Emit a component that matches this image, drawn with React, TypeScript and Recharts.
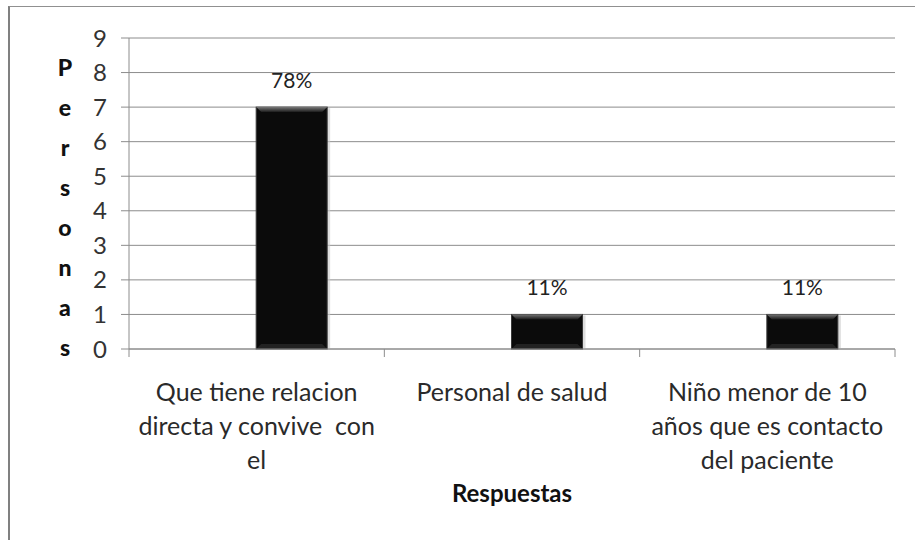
import { BarChart, Bar, XAxis, YAxis, CartesianGrid, LabelList, Label } from 'recharts'

const categories = [
  'Que tiene relacion\ndirecta y convive  con\nel',
  'Personal de salud',
  'Niño menor de 10\naños que es contacto\ndel paciente',
]
const serie1 = [0, 0, 0]
const personas = [7, 1, 1]
const porcentajes = ['78%', '11%', '11%']
const yTicks = [0, 1, 2, 3, 4, 5, 6, 7, 8, 9]

const data = categories.map((c, i) => ({
  name: c,
  serie1: serie1[i],
  personas: personas[i],
  pct: porcentajes[i],
}))

const FONT = 'Lato, "Open Sans", sans-serif'
const GRID = '#8c8c8c'

function BevelBar(props: any) {
  const { x, y, width, height } = props
  if (!height || height <= 0) return null
  const b = Math.min(5, height / 4)
  return (
    <g>
      <rect x={x + 1} y={y + 1} width={width + 2} height={height} fill="#c8c8c8" opacity={0.6} />
      <rect x={x} y={y} width={width} height={height} fill="#0b0b0b" stroke="#3a3a3a" strokeWidth={1} />
      <polygon
        points={`${x},${y} ${x + width},${y} ${x + width - b},${y + b} ${x + b},${y + b}`}
        fill="url(#bevelTop)"
      />
      <polygon
        points={`${x},${y + height} ${x + width},${y + height} ${x + width - b},${y + height - b} ${x + b},${y + height - b}`}
        fill="#222"
      />
    </g>
  )
}

function CategoryTick(props: any) {
  const { x, y, payload, index } = props
  const lines = String(payload.value).split('\n')
  const half = payload.offset || 127.6
  return (
    <g>
      <line x1={x - half} y1={y - 8} x2={x - half} y2={y} stroke={GRID} />
      {index === categories.length - 1 && <line x1={x + half} y1={y - 8} x2={x + half} y2={y} stroke={GRID} />}
      <text
        x={x}
        y={y}
        textAnchor="middle"
        fill="#2a2a2a"
        fontSize={25}
        fontFamily={FONT}
        style={{ whiteSpace: 'pre' }}
      >
        {lines.map((l, i) => (
          <tspan key={i} x={x} dy={i === 0 ? 44 : 34}>
            {l}
          </tspan>
        ))}
      </text>
    </g>
  )
}

function StackedTitle(props: any) {
  const { viewBox } = props
  const letters = 'Personas'.split('')
  return (
    <g>
      {letters.map((ch, i) => (
        <text
          key={i}
          x={viewBox.x + 65}
          y={viewBox.y + 29 + i * 40}
          textAnchor="middle"
          dominantBaseline="central"
          fontSize={23}
          fontWeight="900"
          fontFamily={FONT}
          fill="#111"
        >
          {ch}
        </text>
      ))}
    </g>
  )
}

export default function App() {
  return (
    <div style={{ position: 'absolute', left: 0, top: 0, width: 915, height: 540, overflow: 'hidden', background: '#fff' }}>
      <div
        style={{
          position: 'absolute',
          left: 8,
          top: 6,
          width: 940,
          height: 560,
          borderTop: '1.5px solid #909090',
          borderLeft: '2px solid #808080',
        }}
      />
      <div style={{ position: 'absolute', left: 0, top: 0 }}>
        <BarChart
          width={915}
          height={540}
          data={data}
          margin={{ top: 38, right: 20, left: 0, bottom: 0 }}
          barCategoryGap="22%"
          barGap={0}
        >
          <defs>
            <linearGradient id="bevelTop" x1="0" y1="0" x2="0" y2="1">
              <stop offset="0%" stopColor="#777" />
              <stop offset="100%" stopColor="#1a1a1a" />
            </linearGradient>
          </defs>
          <CartesianGrid vertical={false} stroke={GRID} strokeDasharray="" />
          <XAxis
            dataKey="name"
            height={191}
            interval={0}
            axisLine={{ stroke: GRID }}
            tickLine={false}
            tick={<CategoryTick />}
          >
            <Label
              value="Respuestas"
              position="insideBottom"
              offset={38}
              style={{ fontFamily: FONT, fontSize: 24, fontWeight: 'bold', fill: '#111' }}
            />
          </XAxis>
          <YAxis
            width={129}
            domain={[0, 9]}
            ticks={yTicks}
            interval={0}
            axisLine={{ stroke: GRID }}
            tickLine={{ stroke: GRID }}
            tickSize={8}
            tickMargin={14}
            tick={{ fontSize: 24, fontFamily: FONT, fill: '#333' }}
          >
            <Label content={<StackedTitle />} />
          </YAxis>
          <Bar dataKey="serie1" fill="transparent" isAnimationActive={false} />
          <Bar dataKey="personas" shape={<BevelBar />} isAnimationActive={false}>
            <LabelList
              dataKey="pct"
              position="top"
              offset={19}
              style={{ fontFamily: FONT, fontSize: 21, fill: '#222' }}
            />
          </Bar>
        </BarChart>
      </div>
    </div>
  )
}
